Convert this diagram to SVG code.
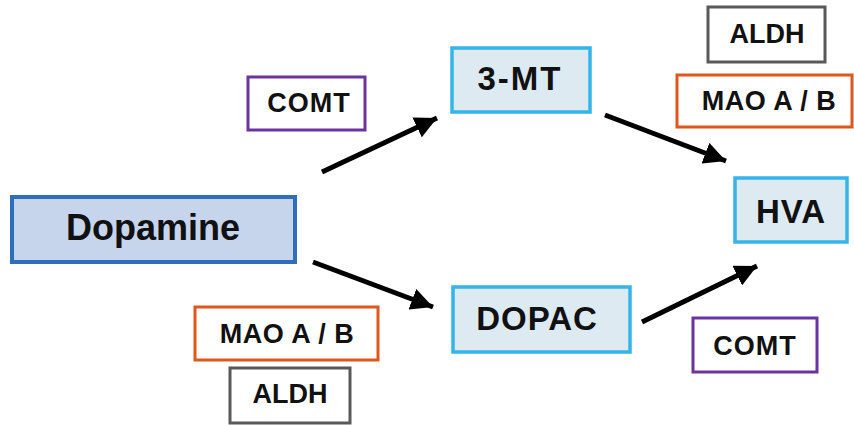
<svg xmlns="http://www.w3.org/2000/svg" width="854" height="425" viewBox="0 0 854 425">
  <style>
    .lbl { font-family: "Liberation Sans", Arial, sans-serif; font-weight: bold; fill: #111; text-anchor: middle; }
    .big { font-size: 33px; }
    .enz { font-size: 27px; }
    .main { fill: #C6D5EC; stroke: #2F6EBA; stroke-width: 4; }
    .met { fill: #DEEAF1; stroke: #33B5E8; stroke-width: 3.5; }
    .mao { fill: #FFFFFF; stroke: #E0561B; stroke-width: 3; }
    .comt { fill: #FFFFFF; stroke: #6B33A0; stroke-width: 3; }
    .aldh { fill: #FFFFFF; stroke: #595959; stroke-width: 3; }
    .arrow { stroke: #000; stroke-width: 5; fill: none; marker-end: url(#head); }
  </style>
  <defs>
    <marker id="head" markerUnits="userSpaceOnUse" markerWidth="24" markerHeight="22" refX="22" refY="11" orient="auto">
      <path d="M0,0 L22,11 L0,22 Z" fill="#000"/>
    </marker>
  </defs>
  <rect width="854" height="425" fill="#FFFFFF"/>

  <g id="connectors">
    <line class="arrow" x1="322" y1="172" x2="437" y2="118"/>
    <line class="arrow" x1="605" y1="115" x2="726" y2="161"/>
    <line class="arrow" x1="313" y1="262" x2="433" y2="307"/>
    <line class="arrow" x1="642" y1="322" x2="757" y2="266"/>
  </g>

  <g id="dopamine">
    <rect class="main" x="12" y="197" width="283" height="65"/>
    <text class="lbl" x="153" y="240" font-size="36">Dopamine</text>
  </g>
  <g id="mt3">
    <rect class="met" x="452" y="48" width="138" height="64"/>
    <text class="lbl big" x="520" y="90" letter-spacing="2">3-MT</text>
  </g>
  <g id="dopac">
    <rect class="met" x="453" y="287" width="177" height="65"/>
    <text class="lbl big" x="537" y="330" letter-spacing="1">DOPAC</text>
  </g>
  <g id="hva">
    <rect class="met" x="735" y="178" width="112" height="64"/>
    <text class="lbl big" x="791" y="223" letter-spacing="1">HVA</text>
  </g>

  <g id="comt-top">
    <rect class="comt" x="248" y="77" width="117" height="53"/>
    <text class="lbl enz" x="309" y="112" letter-spacing="1">COMT</text>
  </g>
  <g id="aldh-top">
    <rect class="aldh" x="708" y="7" width="117" height="55"/>
    <text class="lbl enz" x="767" y="43">ALDH</text>
  </g>
  <g id="mao-top">
    <rect class="mao" x="677" y="75" width="175" height="52"/>
    <text class="lbl enz" x="769" y="110" letter-spacing="0.5">MAO A / B</text>
  </g>
  <g id="mao-bottom">
    <rect class="mao" x="195" y="307" width="183" height="53"/>
    <text class="lbl enz" x="287" y="343" letter-spacing="0.5">MAO A / B</text>
  </g>
  <g id="aldh-bottom">
    <rect class="aldh" x="230" y="368" width="120" height="55"/>
    <text class="lbl enz" x="290" y="403">ALDH</text>
  </g>
  <g id="comt-bottom">
    <rect class="comt" x="693" y="318" width="124" height="54"/>
    <text class="lbl enz" x="755" y="355" letter-spacing="1">COMT</text>
  </g>
</svg>
